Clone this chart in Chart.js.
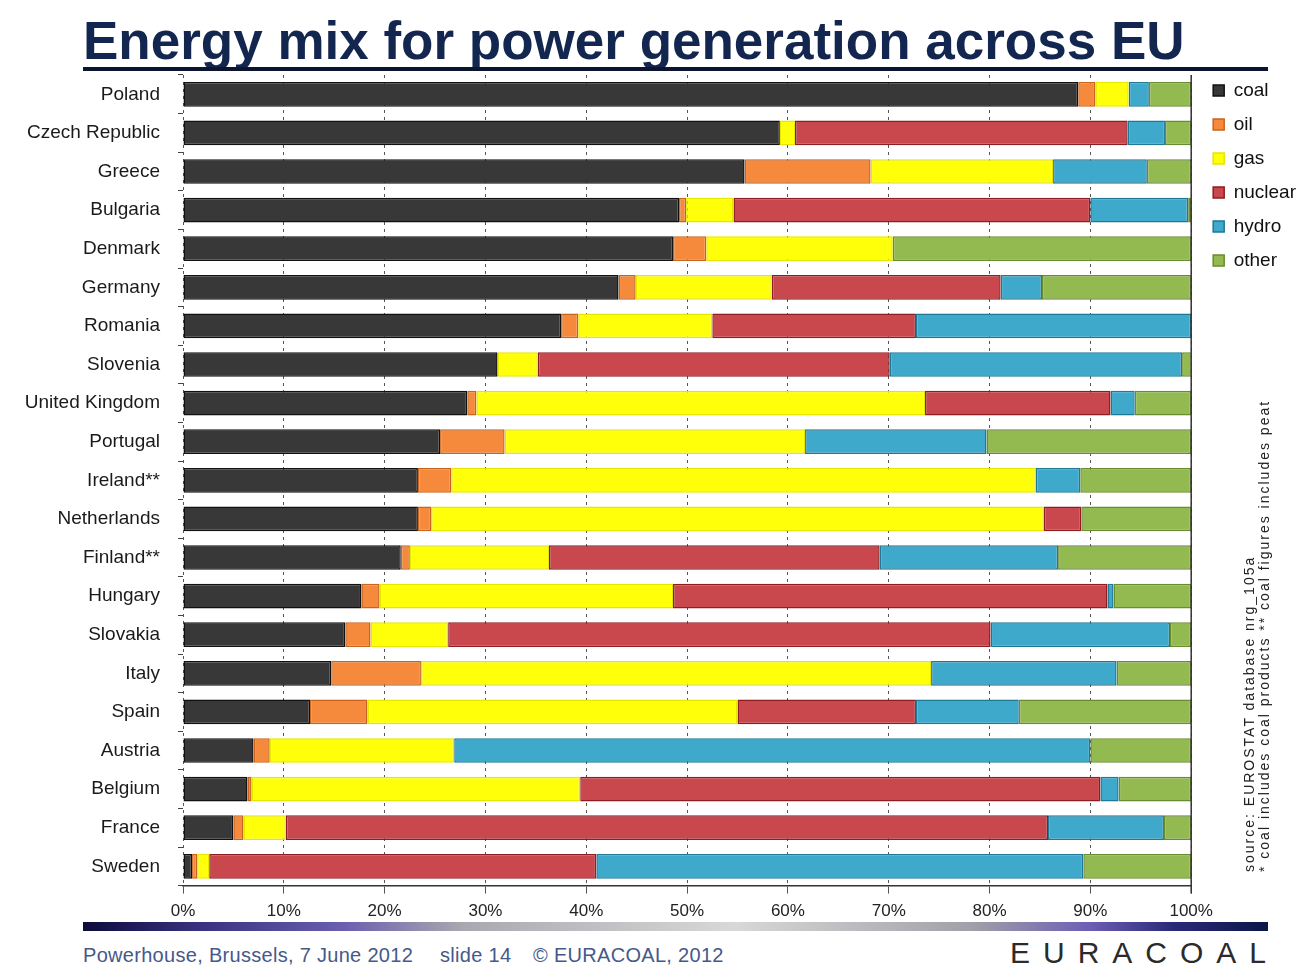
<!DOCTYPE html>
<html>
<head>
<meta charset="utf-8">
<script src="https://cdn.jsdelivr.net/npm/chart.js@4/dist/chart.umd.min.js"></script>
<style>
  body { margin: 0; background: #fff; width: 1299px; height: 968px; overflow: hidden; position: relative; font-family: "Liberation Sans", Arial, sans-serif; }
  #title { position: absolute; left: 83px; top: 14px; font-size: 53px; line-height: 53px; font-weight: bold; color: #132650; white-space: nowrap; }
  #rule { position: absolute; left: 83px; top: 67px; width: 1185px; height: 4px; background: #0c1530; }
  #wrap { position: absolute; left: 0; top: 65px; width: 1299px; height: 871px; }
  #grad { position: absolute; left: 83px; top: 922px; width: 1185px; height: 9px;
    background: linear-gradient(to right, #0b0b3c 0%, #3a3280 10%, #6a5fb0 22%, #a8a8b0 32%, #d8d8d8 55%, #a0a0a8 75%, #6c5eb4 85%, #2a2a78 92%, #0b1648 100%); }
  .foot { position: absolute; top: 944px; font-size: 20px; line-height: 22px; color: #45598a; white-space: nowrap; letter-spacing: 0.3px; }
  #logo { position: absolute; left: 1010px; top: 937px; font-size: 30px; line-height: 32px; color: #2b2b2b; letter-spacing: 13px; white-space: nowrap; }
  #src { position: absolute; left: 1242px; top: 872px; transform-origin: 0 0; transform: rotate(-90deg); font-size: 14px; color: #222; line-height: 15px; letter-spacing: 2px; white-space: nowrap; }
</style>
</head>
<body>
<div id="title">Energy mix for power generation across EU</div>
<div id="rule"></div>
<div id="wrap"><canvas id="energy-mix"></canvas></div>
<div id="src">source: EUROSTAT database nrg_105a<br>* coal includes coal products ** coal figures includes peat</div>
<div id="grad"></div>
<div class="foot" style="left:83px">Powerhouse, Brussels, 7 June 2012</div>
<div class="foot" style="left:440px">slide 14</div>
<div class="foot" style="left:533px">© EURACOAL, 2012</div>
<div id="logo">EURACOAL</div>
<script>
// Data, shares in % of power generation
const countries = ['Poland', 'Czech Republic', 'Greece', 'Bulgaria', 'Denmark', 'Germany', 'Romania',
    'Slovenia', 'United Kingdom', 'Portugal', 'Ireland**', 'Netherlands', 'Finland**', 'Hungary',
    'Slovakia', 'Italy', 'Spain', 'Austria', 'Belgium', 'France', 'Sweden'];

const coal    = [88.8, 59.2, 55.7, 49.2, 48.6, 43.2, 37.5, 31.2, 28.2, 25.5, 23.3, 23.3, 21.6, 17.7, 16.1, 14.7, 12.6, 7.0, 6.4, 5.0, 0.9];
const oil     = [1.7, 0, 12.5, 0.7, 3.3, 1.7, 1.7, 0, 0.9, 6.4, 3.3, 1.3, 0.9, 1.8, 2.5, 8.9, 5.7, 1.6, 0.4, 1.0, 0.5];
const gas     = [3.3, 1.5, 18.1, 4.7, 18.5, 13.5, 13.3, 4.0, 44.5, 29.8, 58.0, 60.8, 13.8, 29.1, 7.7, 50.6, 36.7, 18.3, 32.6, 4.2, 1.2];
const nuclear = [0, 33.0, 0, 35.4, 0, 22.7, 20.2, 34.9, 18.4, 0, 0, 3.7, 32.8, 43.1, 53.8, 0, 17.7, 0, 51.6, 75.6, 38.4];
const hydro   = [2.0, 3.7, 9.3, 9.7, 0, 4.1, 27.3, 29.0, 2.4, 18.0, 4.4, 0, 17.7, 0.6, 17.8, 18.4, 10.2, 63.1, 1.8, 11.5, 48.3];
const other   = [4.2, 2.6, 4.4, 0.3, 29.6, 14.8, 0, 1.0, 5.6, 20.3, 11.0, 10.9, 13.2, 7.7, 2.1, 7.4, 17.1, 10.0, 7.2, 2.7, 10.7];

const xTicks = [0, 10, 20, 30, 40, 50, 60, 70, 80, 90, 100];

const ctx = document.getElementById('energy-mix');
const fontFamily = '"Liberation Sans", Arial, sans-serif';

// solid frame line at the 100% edge, legend nudged to sit like the slide
const frame = {
    id: 'frame',
    afterLayout(chart) {
        chart.legend.left += 7;
        chart.legend.right += 7;
        chart.legend.top -= 9;
        chart.legend.bottom -= 9;
    },
    afterDatasetsDraw(chart) {
        const a = chart.chartArea;
        const c = chart.ctx;
        c.save();
        c.strokeStyle = '#333';
        c.lineWidth = 1.5;
        c.beginPath();
        c.moveTo(a.right, a.top);
        c.lineTo(a.right, a.bottom + 8);
        c.stroke();
        c.restore();
    }
};

function series(label, data, color, edge) {
    return {
        label: label,
        data: data,
        backgroundColor: color,
        borderColor: edge,
        borderWidth: 1.5,
        borderSkipped: false,
        barPercentage: 0.64,
        categoryPercentage: 1
    };
}

new Chart(ctx, {
    type: 'bar',
    data: {
        labels: countries,
        datasets: [
            series('coal', coal, '#383838', '#111111'),
            series('oil', oil, '#f58a3c', '#c8641e'),
            series('gas', gas, '#ffff0a', '#e6e600'),
            series('nuclear', nuclear, '#c9484d', '#8e1c20'),
            series('hydro', hydro, '#3ea9cb', '#1e7896'),
            series('other', other, '#93b951', '#6a8c30')
        ]
    },
    plugins: [frame],
    options: {
        indexAxis: 'y',
        responsive: true,
        maintainAspectRatio: false,
        animation: false,
        layout: {
            padding: { top: 10, right: 0, bottom: 6, left: 0 }
        },
        plugins: {
            legend: {
                position: 'right',
                align: 'start',
                labels: {
                    boxWidth: 11,
                    boxHeight: 11,
                    padding: 15,
                    color: '#111',
                    font: { family: fontFamily, size: 19 }
                }
            },
            tooltip: { enabled: false }
        },
        scales: {
            x: {
                stacked: true,
                min: 0,
                max: 100,
                afterBuildTicks(scale) {
                    scale.ticks = xTicks.map(v => ({ value: v }));
                },
                ticks: {
                    callback: v => v + '%',
                    color: '#222',
                    padding: 8,
                    font: { family: fontFamily, size: 17 }
                },
                grid: {
                    color: '#555',
                    lineWidth: 1,
                    tickLength: 8,
                    tickColor: '#555'
                },
                border: {
                    display: true,
                    color: '#333',
                    width: 1.5,
                    dash: [3, 4]
                }
            },
            y: {
                stacked: true,
                afterFit(scale) {
                    scale.width = 183;
                    scale.paddingTop = 0;
                    scale.paddingBottom = 0;
                },
                ticks: {
                    color: '#1a1a1a',
                    padding: 18,
                    font: { family: fontFamily, size: 19 }
                },
                grid: {
                    drawOnChartArea: false,
                    drawTicks: true,
                    tickLength: 5,
                    color: '#444'
                },
                border: { display: false }
            }
        }
    }
});
</script>
</body>
</html>
